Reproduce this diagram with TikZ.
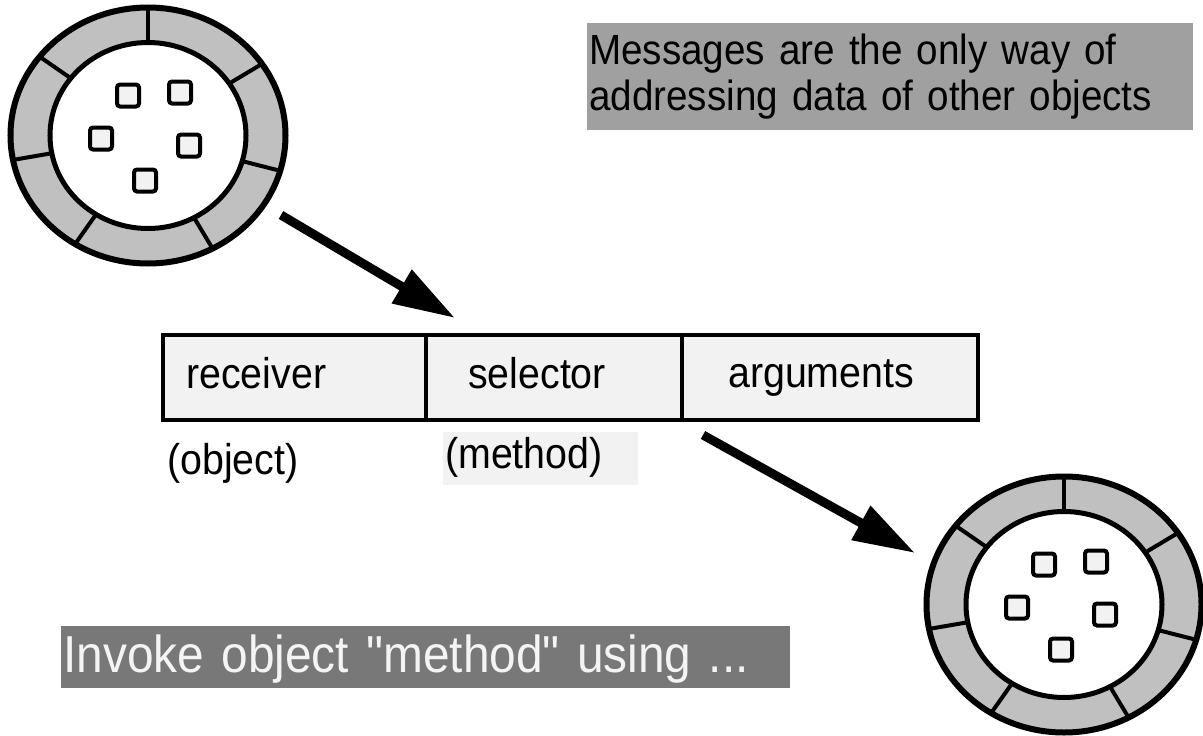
\documentclass[tikz,border=0pt]{standalone}
\usepackage{fontspec}
\setmainfont{Liberation Sans}[FakeStretch=0.915]
\newfontfamily\bnrfamily{Liberation Sans}[FakeStretch=0.92]
\usetikzlibrary{arrows.meta,shapes.geometric}
\definecolor{ringgray}{HTML}{C0C0C0}
\definecolor{cellfill}{HTML}{F2F2F2}
\definecolor{notegray}{HTML}{A0A0A0}
\definecolor{bannergray}{HTML}{787878}
\definecolor{bannertext}{HTML}{F4F4F4}
\newcommand\lblfont{\fontsize{43}{46}\selectfont}
\newcommand\notefont{\fontsize{42.2}{46}\selectfont}
\newcommand\bnrfont{\bnrfamily\fontsize{52}{58}\selectfont}
\tikzset{
  datasq/.style={rectangle, draw, line width=4pt, fill=cellfill, minimum size=22pt,
    inner sep=0pt, outer sep=0pt, rounded corners=3pt},
  cell/.style={rectangle, draw, line width=4pt, fill=cellfill, minimum height=85pt,
    inner sep=0pt, outer sep=0pt, anchor=north west},
  lbl/.style={anchor=base west, inner sep=0pt, font=\lblfont},
  msgarrow/.style={line width=9pt, line join=round,
    -{Triangle[length=62pt,width=37pt]}},
  objpic/.pic={
    \node[ellipse, draw, line width=6pt, fill=ringgray, minimum width=275pt,
      minimum height=256pt, inner sep=0pt, outer sep=0pt] (-ring) at (0,0) {};
    \foreach \a in {-90,-34,16,62,122,169,-142}
      \draw[line width=4pt] (\a:98 and 93) -- (\a:137.5 and 128);
    \node[ellipse, draw, line width=5pt, fill=white, minimum width=196pt,
      minimum height=186pt, inner sep=0pt, outer sep=0pt] (-core) at (0,0) {};
    \foreach \dx/\dy [count=\i] in {-20/-40,32/-43,-47/3,41/10,-3/45}
      \node[datasq] (-d\i) at (\dx,\dy) {};
  }
}
\begin{document}
\begin{tikzpicture}[x=1pt,y=-1pt]
\useasboundingbox (0,0) rectangle (1203,736);

% objects
\pic (o1) at (148,135.5) {objpic};
\pic (o2) at (1064,604.5) {objpic};

% note box
\node[anchor=north west, fill=notegray, inner xsep=2pt, inner ysep=0pt,
  minimum height=107pt, text width=602pt, align=left, font=\notefont]
  (note) at (587,23) {Messages are the only way of\\addressing data of other objects};

% message cells
\node[cell, minimum width=263pt] (recv) at (163,335) {};
\node[cell, minimum width=256pt] (sel) at (426,335) {};
\node[cell, minimum width=296pt] (args) at (682,335) {};
\node[lbl] (trecv) at (186,388) {receiver};
\node[lbl] (tsel) at (468,388) {selector};
\node[lbl] (targs) at (728,387) {arguments};

% sub labels
\node[lbl] (tobj) at (167,474) {(object)};
\node[anchor=north west, fill=cellfill, inner xsep=2pt, inner ysep=0pt,
  minimum height=53pt, text width=191pt, align=left, font=\lblfont,
  text height=29pt, text depth=9pt] (tmeth) at (443,432) {(method)};

% arrows
\coordinate (a1from) at (281,215);
\coordinate (a1to) at (455,318);
\coordinate (a2from) at (703,435);
\coordinate (a2to) at (915,553);
\draw[msgarrow] (a1from) -- (a1to);
\draw[msgarrow] (a2from) -- (a2to);

% banner
\node[anchor=north west, fill=bannergray, text=bannertext, inner xsep=2pt,
  inner ysep=0pt, minimum height=62pt, text width=725pt, align=left,
  font=\bnrfont, text height=39.5pt, text depth=9.5pt]
  (banner) at (61,626) {Invoke object {\char34}method{\char34} using ...};
\end{tikzpicture}
\end{document}
